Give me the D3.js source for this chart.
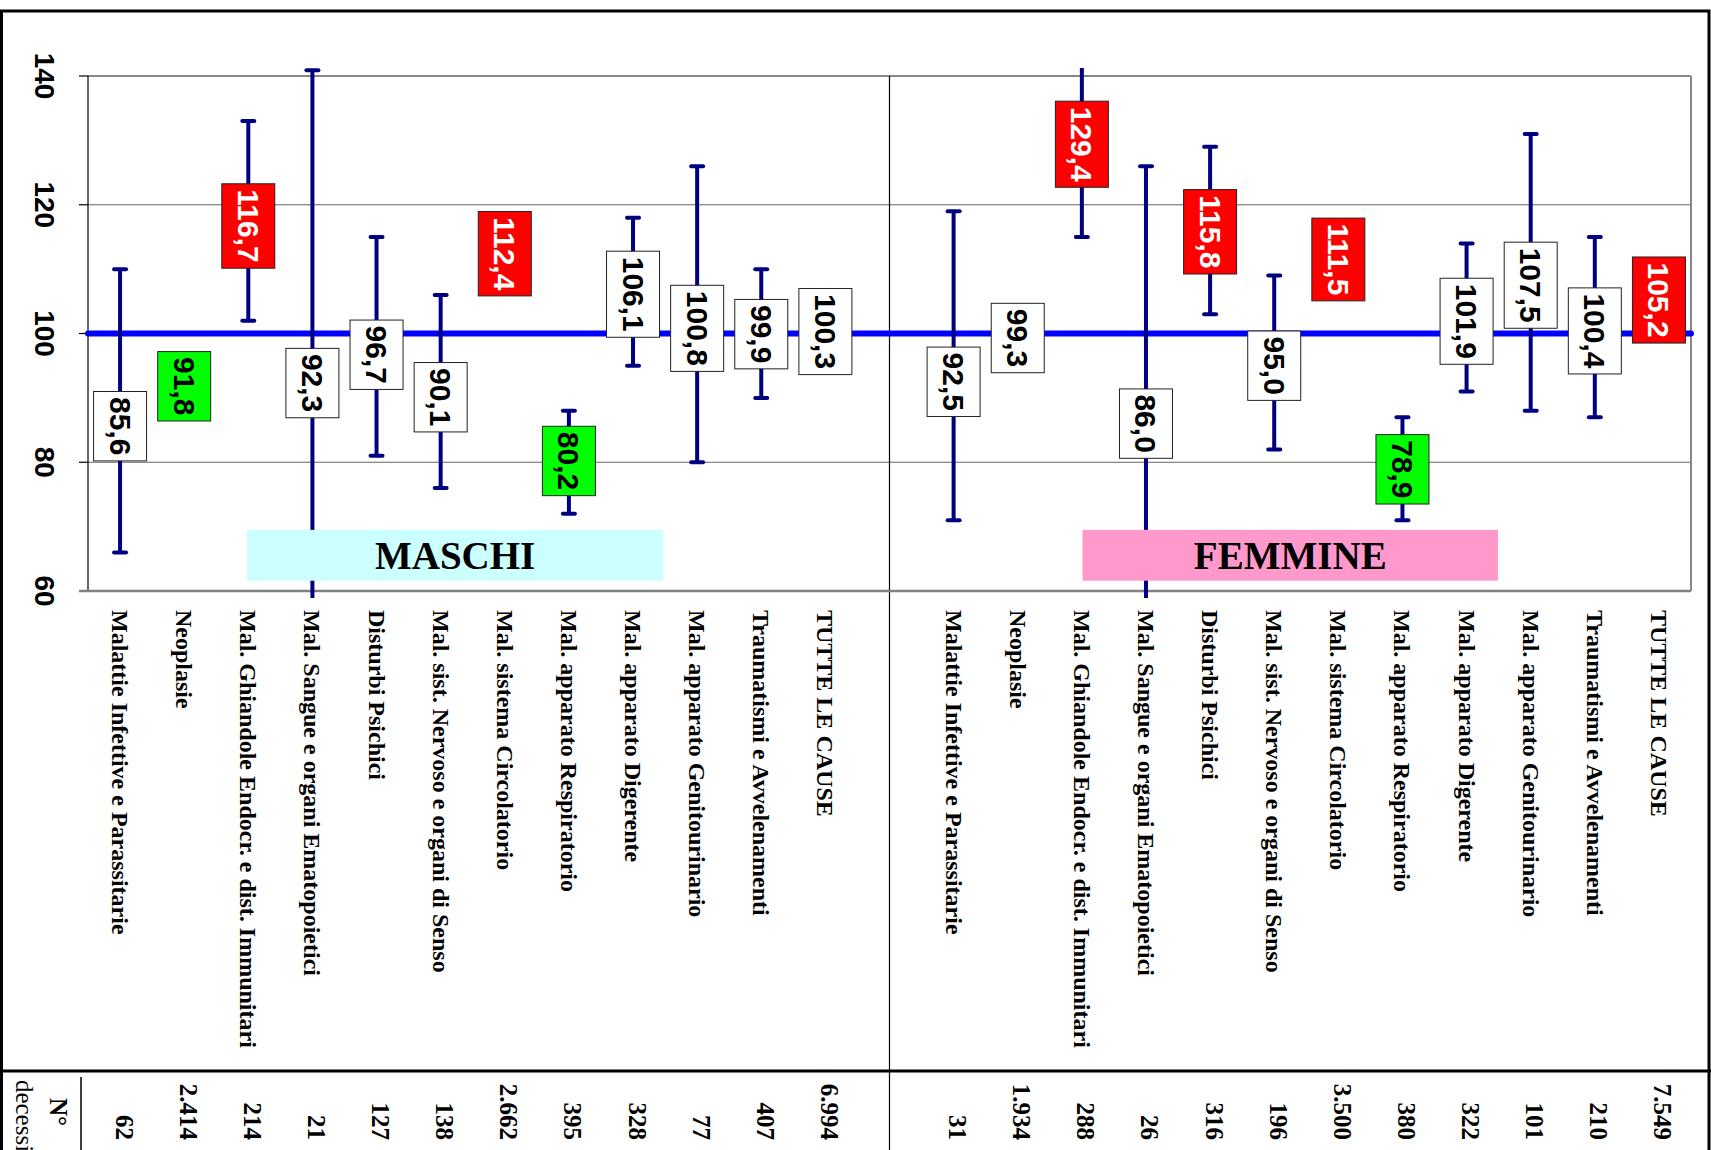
<!DOCTYPE html>
<html>
<head>
<meta charset="utf-8">
<script src="https://cdn.jsdelivr.net/npm/d3@7"></script>
<style>
  body { margin: 0; background: #fff; }
  svg { display: block; }
</style>
</head>
<body>
<div id="chart"></div>
<script>
// Categorie di causa (stesso ordine per maschi e femmine)
var categorie = [
    "Malattie Infettive e Parassitarie",
    "Neoplasie",
    "Mal. Ghiandole Endocr. e dist. Immunitari",
    "Mal. Sangue e organi Ematopoietici",
    "Disturbi Psichici",
    "Mal. sist. Nervoso e organi di Senso",
    "Mal. sistema Circolatorio",
    "Mal. apparato Respiratorio",
    "Mal. apparato Digerente",
    "Mal. apparato Genitourinario",
    "Traumatismi e Avvelenamenti",
    "TUTTE LE CAUSE"
];

// Maschi: SMR e intervallo di confidenza
var maschiSmr = [85.6, 91.8, 116.7, 92.3, 96.7, 90.1, 112.4, 80.2, 106.1, 100.8, 99.9, 100.3];
var maschiInf = [66, 88.1, 102, 57.1, 81, 76, 108.1, 72, 95, 80, 90, 98.0];
var maschiSup = [110, 95.5, 133, 140.9, 115, 106, 116.7, 88, 118, 126, 110, 102.7];
var maschiDecessi = [62, 2414, 214, 21, 127, 138, 2662, 395, 328, 77, 407, 6994];

// Femmine
var femmineSmr = [92.5, 99.3, 129.4, 86.0, 115.8, 95.0, 111.5, 78.9, 101.9, 107.5, 100.4, 105.2];
var femmineInf = [71, 94.9, 115, 56.2, 103, 82, 107.8, 71, 91, 88, 87, 102.8];
var femmineSup = [119, 103.7, 163, 126, 129, 109, 115.2, 87, 114, 131, 115, 107.6];
var femmineDecessi = [31, 1934, 288, 26, 316, 196, 3500, 380, 322, 101, 210, 7549];

var yTicks = [60, 80, 100, 120, 140];

function init() {
    var W = 1711, H = 1150;
    var plot = {left: 88, right: 1691, top: 76, bottom: 591};
    var tableTop = 1071;

    var it = d3.formatLocale({decimal: ",", thousands: ".", grouping: [3], currency: ["", "€"]});
    var fmtSmr = it.format(".1f"),
        fmtN = it.format(",d");

    // una riga per ogni coppia sesso/causa
    var rows = [];
    categorie.forEach(function(c, i) {
        rows.push({key: "M" + i, cat: c, smr: maschiSmr[i], lo: maschiInf[i], hi: maschiSup[i], n: maschiDecessi[i]});
    });
    categorie.forEach(function(c, i) {
        rows.push({key: "F" + i, cat: c, smr: femmineSmr[i], lo: femmineInf[i], hi: femmineSup[i], n: femmineDecessi[i]});
    });

    // una categoria vuota separa i due gruppi
    var dominio = rows.slice(0, 12).map(function(d) { return d.key; })
        .concat(["sep"])
        .concat(rows.slice(12).map(function(d) { return d.key; }));
    var x = d3.scaleBand().domain(dominio).range([plot.left, plot.right]).padding(0);
    var xi = d3.scaleLinear().domain([0, dominio.length]).range([plot.left, plot.right]); // posizione continua per i riquadri
    var y = d3.scaleLinear().domain([60, 140]).range([plot.bottom, plot.top]);
    var cx = function(d) { return x(d.key) + x.bandwidth() / 2; };
    var xSep = x("sep") + x.bandwidth() / 2;

    var svg = d3.select("#chart").append("svg")
        .attr("width", W)
        .attr("height", H);

    svg.append("defs").append("clipPath").attr("id", "clip")
        .append("rect")
        .attr("x", plot.left - 20).attr("y", plot.top - 8)
        .attr("width", plot.right - plot.left + 40)
        .attr("height", plot.bottom - plot.top + 15);

    // griglia
    svg.append("g").selectAll("line")
        .data([80, 120])
        .join("line")
        .attr("x1", plot.left).attr("x2", plot.right)
        .attr("y1", function(d) { return y(d); }).attr("y2", function(d) { return y(d); })
        .style("stroke", "#666").style("stroke-width", 1);

    // cornice area del grafico
    svg.append("line").attr("x1", plot.left).attr("x2", plot.right)
        .attr("y1", y(140)).attr("y2", y(140))
        .style("stroke", "#888").style("stroke-width", 2);
    svg.append("line").attr("x1", plot.right).attr("x2", plot.right)
        .attr("y1", y(140)).attr("y2", y(60))
        .style("stroke", "#888").style("stroke-width", 2);

    // divisorio maschi / femmine
    svg.append("line")
        .attr("x1", xSep).attr("x2", xSep)
        .attr("y1", y(140)).attr("y2", H)
        .style("stroke", "#000").style("stroke-width", 1.2);

    // asse Y
    var yAxis = svg.append("g").attr("transform", "translate(" + plot.left + ",0)");
    yAxis.append("line").attr("y1", y(140)).attr("y2", y(60))
        .style("stroke", "#000").style("stroke-width", 1.2);
    yAxis.selectAll(".tick").data(yTicks).join("line")
        .attr("x1", -9).attr("x2", 0)
        .attr("y1", function(d) { return y(d); }).attr("y2", function(d) { return y(d); })
        .style("stroke", "#000").style("stroke-width", 1.2);
    yAxis.selectAll("text").data(yTicks).join("text")
        .attr("transform", function(d) { return "translate(-44," + y(d) + ") rotate(90)"; })
        .attr("text-anchor", "middle")
        .attr("dominant-baseline", "central")
        .style("font-family", "'Liberation Sans', Arial, sans-serif")
        .style("font-weight", "bold")
        .style("font-size", "28px")
        .text(function(d) { return d; });

    // asse X (linea di base)
    svg.append("line").attr("x1", plot.left - 9).attr("x2", plot.right)
        .attr("y1", y(60)).attr("y2", y(60))
        .style("stroke", "#808080").style("stroke-width", 2.5);

    // linea di riferimento 100
    svg.append("line")
        .attr("x1", plot.left).attr("x2", plot.right)
        .attr("y1", y(100)).attr("y2", y(100))
        .style("stroke", "#0000ff").style("stroke-width", 6)
        .style("stroke-linecap", "round");

    // intervalli di confidenza
    var eb = svg.append("g").attr("clip-path", "url(#clip)");
    eb.selectAll(".ci").data(rows).join("line")
        .attr("x1", cx).attr("x2", cx)
        .attr("y1", function(d) { return y(d.lo); })
        .attr("y2", function(d) { return y(d.hi); })
        .style("stroke", "#000080").style("stroke-width", 4);
    eb.selectAll(".cap").data(rows.flatMap(function(d) {
            return [{d: d, v: d.lo}, {d: d, v: d.hi}];
        }).filter(function(c) { return c.v >= 59 && c.v <= 141.5; }))
        .join("line")
        .attr("x1", function(c) { return cx(c.d) - 6; })
        .attr("x2", function(c) { return cx(c.d) + 6; })
        .attr("y1", function(c) { return y(c.v); })
        .attr("y2", function(c) { return y(c.v); })
        .style("stroke", "#000080").style("stroke-width", 4)
        .style("stroke-linecap", "round");

    // riquadri MASCHI / FEMMINE
    var gruppi = [
        {text: "MASCHI", from: 2.48, to: 8.97, fill: "#ccffff"},
        {text: "FEMMINE", from: 15.51, to: 21.99, fill: "#ff99cc"}
    ];
    var gg = svg.append("g").selectAll("g").data(gruppi).join("g");
    gg.append("rect")
        .attr("x", function(d) { return xi(d.from); })
        .attr("width", function(d) { return xi(d.to) - xi(d.from); })
        .attr("y", y(69.5))
        .attr("height", y(61.6) - y(69.5))
        .style("fill", function(d) { return d.fill; });
    gg.append("text")
        .attr("x", function(d) { return (xi(d.from) + xi(d.to)) / 2; })
        .attr("y", (y(69.5) + y(61.6)) / 2)
        .attr("text-anchor", "middle")
        .attr("dominant-baseline", "central")
        .style("font-family", "'Liberation Serif', 'Times New Roman', serif")
        .style("font-weight", "bold")
        .style("font-size", "39px")
        .text(function(d) { return d.text; });

    // etichette SMR
    var lab = svg.append("g").selectAll("g").data(rows).join("g")
        .attr("transform", function(d) { return "translate(" + cx(d) + "," + y(d.smr) + ")"; });
    var colore = function(d) {
        if (d.lo > 100) return "#ff0000";
        if (d.hi < 100) return "#00ff00";
        return "#ffffff";
    };
    var rects = lab.append("rect")
        .style("fill", colore)
        .style("stroke", "#222").style("stroke-width", 1);
    var txt = lab.append("text")
        .attr("transform", "rotate(90)")
        .attr("text-anchor", "middle")
        .attr("dominant-baseline", "central")
        .style("font-family", "'Liberation Sans', Arial, sans-serif")
        .style("font-weight", "bold")
        .style("font-size", "30px")
        .style("fill", function(d) { return d.lo > 100 ? "#fff" : "#000"; })
        .text(function(d) { return fmtSmr(d.smr); });
    txt.each(function(d) { d.len = this.getComputedTextLength(); });
    rects.attr("x", -26.5).attr("width", 53)
        .attr("y", function(d) { return -(d.len + 11) / 2; })
        .attr("height", function(d) { return d.len + 11; });

    // nomi delle cause
    svg.append("g").selectAll("text").data(rows).join("text")
        .attr("transform", function(d) { return "translate(" + cx(d) + ",610) rotate(90)"; })
        .attr("dominant-baseline", "central")
        .style("font-family", "'Liberation Serif', 'Times New Roman', serif")
        .style("font-weight", "bold")
        .style("font-size", "24px")
        .text(function(d) { return d.cat; });

    // tabella numero decessi
    svg.append("g").selectAll("text").data(rows).join("text")
        .attr("transform", function(d) { return "translate(" + (cx(d) + 4) + ",1140) rotate(90)"; })
        .attr("text-anchor", "end")
        .attr("dominant-baseline", "central")
        .style("font-family", "'Liberation Serif', 'Times New Roman', serif")
        .style("font-weight", "bold")
        .style("font-size", "25px")
        .text(function(d) { return fmtN(d.n); });

    var intest = svg.append("g").style("font-family", "'Liberation Serif', 'Times New Roman', serif")
        .style("font-size", "25px");
    intest.append("text")
        .attr("transform", "translate(58,1112) rotate(90)")
        .attr("text-anchor", "middle").attr("dominant-baseline", "central")
        .style("font-weight", "bold")
        .text("N°");
    intest.append("text")
        .attr("transform", "translate(24,1116) rotate(90)")
        .attr("text-anchor", "middle").attr("dominant-baseline", "central")
        .text("decessi");
    svg.append("line").attr("x1", 81).attr("x2", 81).attr("y1", tableTop + 6).attr("y2", H)
        .style("stroke", "#000").style("stroke-width", 1.5);

    // bordi esterni
    svg.append("line").attr("x1", 0).attr("x2", W).attr("y1", tableTop).attr("y2", tableTop)
        .style("stroke", "#000").style("stroke-width", 3);
    svg.append("rect")
        .attr("x", 1.5).attr("y", 11)
        .attr("width", 1707.5).attr("height", H)
        .style("fill", "none").style("stroke", "#000").style("stroke-width", 3);
}
init();
</script>
</body>
</html>
